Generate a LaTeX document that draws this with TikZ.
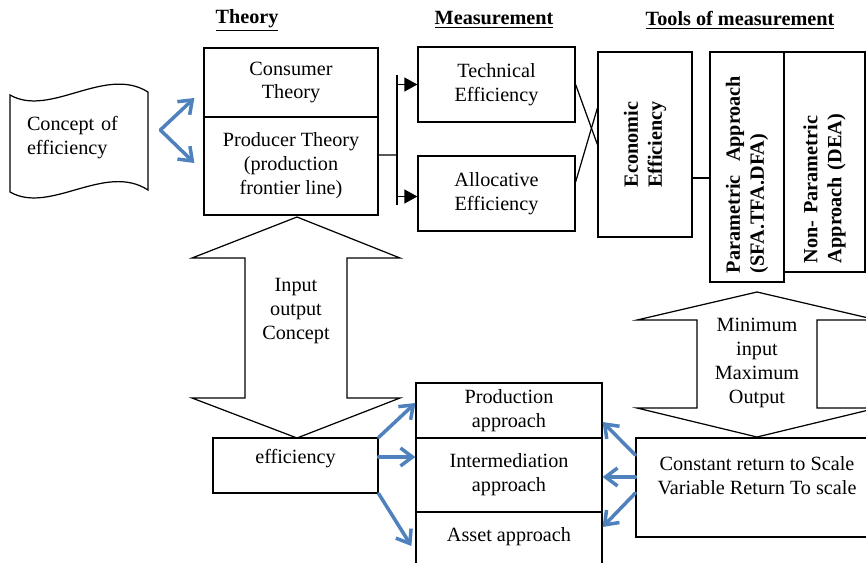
\documentclass[tikz,border=0pt]{standalone}
\usepackage{fontspec}
\setmainfont{Liberation Serif}
\usepackage{tikz}
\usetikzlibrary{arrows.meta}
\definecolor{arrowblue}{RGB}{79, 129, 189}
\newcommand{\diagramsize}{\fontsize{11.5}{13.6}\selectfont}
\tikzset{
    box/.style={draw, line width=0.7pt, align=center, inner sep=0pt},
    sidebox/.style={box, rotate=90, font=\diagramsize\bfseries},
    heading/.style={font=\diagramsize\bfseries},
    thinline/.style={line width=0.7pt},
    bluearrow/.style={draw=arrowblue, line width=2pt, line cap=round, -{Straight Barb[length=2.4mm,width=3.6mm]}},
    blackarrow/.style={line width=0.7pt, -{Triangle[length=2.6mm,width=2.8mm]}},
}

\begin{document}
\begin{tikzpicture}[x=0.2mm, y=-0.2mm, font=\diagramsize]
                    \path[use as bounding box, clip] (0,0) rectangle (866,562);

                    % Headings
                    \node[heading] (theoryhead) at (247,20) {\underline{Theory}};
                    \node[heading] (measurehead) at (494,20) {\underline{Measurement}};
                    \node[heading] (toolshead) at (740,20) {\underline{Tools of measurement}};

                    % Concept of efficiency (tape)
                    \draw[thinline] (10,95) .. controls (50,118) and (105,65) .. (148,92) -- (148,190) .. controls (105,162) and (50,215) .. (10,192) -- cycle;
                    \node[align=left, text width=20.8mm, inner xsep=3.4mm, inner ysep=0pt] (concept) at (79,138) {Concept of\\efficiency};

                    % Theory
                    \node[box, minimum width=34.8mm, minimum height=13.8mm] (consumer) at (291,82.5) {Consumer\\Theory};
                    \node[box, minimum width=34.8mm, minimum height=19.6mm] (producer) at (291,166) {Producer Theory\\(production\\frontier line)};
                    \draw[bluearrow] ([shift={(2.4mm,1.6mm)}]concept.east) -- ([shift={(-1.8mm,-3.1mm)}]consumer.west);
                    \draw[bluearrow] ([shift={(2.4mm,1.6mm)}]concept.east) -- ([shift={(-1.8mm,0.6mm)}]producer.west);

                    % Measurement
                    \node[box, minimum width=31.4mm, minimum height=15mm] (technical) at (496.5,84.5) {Technical\\Efficiency};
                    \node[box, minimum width=31.4mm, minimum height=15mm] (allocative) at (496.5,193.5) {Allocative\\Efficiency};
                    \coordinate (split) at (397,155);
                    \coordinate (splittop) at (397,75);
                    \coordinate (splitbot) at (397,205);
                    \draw[thinline] ([yshift=2.2mm]producer.east) -- (split);
                    \draw[thinline] (splittop) -- (splitbot);
                    \draw[blackarrow] (splittop |- technical.west) -- (technical.west);
                    \draw[blackarrow] ([yshift=-0.6mm]splitbot |- allocative.west) -- ([yshift=-0.6mm]allocative.west);

                    % Tools of measurement (rotated: north is the left side, south the right side)
                    \node[sidebox, minimum width=37mm, minimum height=18.8mm] (economic) at (645,144.5) {Economic\\Efficiency};
                    \node[sidebox, align=left, text width=42.4mm, inner xsep=1.8mm, minimum height=14.8mm] (parametric) at (747,167) {Parametric~~Approach\\(SFA.TFA.DFA)};
                    \node[sidebox, align=left, text width=40.4mm, inner xsep=1.8mm, minimum height=16.2mm] (nonparam) at (824.5,162) {Non- Parametric\\Approach (DEA)};
                    \draw[thinline] (technical.east) -- (economic.north);
                    \draw[thinline] ([yshift=2.3mm]allocative.east) -- ([yshift=7.3mm]economic.north);
                    \draw[thinline] ([yshift=-6.7mm]economic.south) -- ([yshift=-6.7mm]economic.south -| parametric.north);

                    % Input output double arrow
                    \draw[thinline] (297,217) -- (400,258) -- (347,258) -- (347,398) -- (400,398) -- (297,438) -- (192,398) -- (245,398) -- (245,258) -- (192,258) -- cycle;
                    \node[align=center] (iocon) at (296,311) {Input\\output\\Concept};

                    % Minimum input double arrow
                    \draw[thinline] (757,292) -- (877,320) -- (817,320) -- (817,408) -- (877,408) -- (757,437) -- (637,408) -- (697,408) -- (697,320) -- (637,320) -- cycle;
                    \node[align=center] (minmax) at (757,363) {Minimum\\input\\Maximum\\Output};

                    % Approaches
                    \node[box, minimum width=33mm, minimum height=11mm, text depth=10pt] (effbox) at (295.5,465.5) {efficiency};
                    \node[box, minimum width=37.2mm, minimum height=11mm] (production) at (509,410.5) {Production\\approach};
                    \node[box, minimum width=37.2mm, minimum height=14.8mm] (intermed) at (509,475) {Intermediation\\approach};
                    \node[box, minimum width=37.2mm, minimum height=13.6mm] (asset) at (509,546) {Asset approach\\\mbox{}};
                    \node[box, minimum width=48.4mm, minimum height=19.8mm] (returns) at (757,487.5) {Constant return to Scale\\Variable Return To scale\\\mbox{}};
                    \draw[bluearrow] (effbox.north east) -- ([yshift=1.5mm]production.west);
                    \draw[bluearrow] ([yshift=1.7mm]effbox.east) -- ([yshift=1.7mm]effbox.east -| intermed.west);
                    \draw[bluearrow] (effbox.south east) -- ([xshift=-0.8mm]asset.west);
                    \draw[bluearrow] ([yshift=6.5mm]returns.west) -- ([yshift=-2.3mm]production.east);
                    \draw[bluearrow] ([yshift=2.1mm]returns.west) -- ([yshift=2.1mm]returns.west -| intermed.east);
                    \draw[bluearrow] ([yshift=-1.1mm]returns.west) -- ([yshift=3.8mm]asset.east);
                \end{tikzpicture}
\end{document}
